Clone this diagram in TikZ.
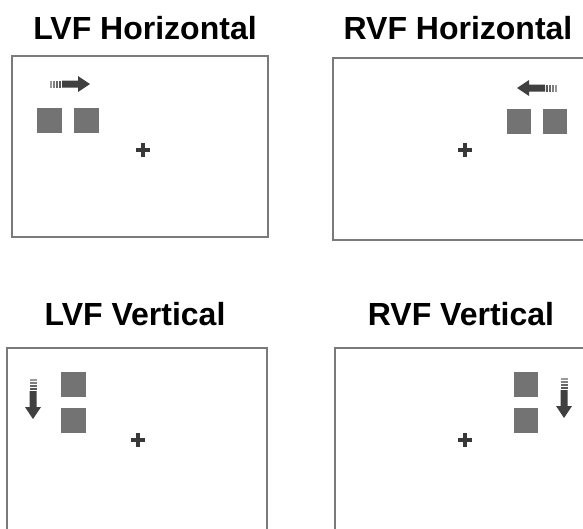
\documentclass[tikz,border=0pt]{standalone}
\usepackage{fontspec}
\setmainfont{Liberation Sans}
\begin{document}
\begin{tikzpicture}[x=1pt,y=-1pt,
  panel/.style={draw=black!52, line width=1.8pt},
  title/.style={font=\bfseries\fontsize{32}{32}\selectfont, anchor=base, inner sep=0pt},
  stim/.style={fill=black!55, draw=none},
  fix/.style={draw=black!78, line width=3.5pt},
  stimarrow/.pic={
    \fill[black!40] (0,-3.5) rectangle (1.8,3.5);
    \fill[black!50] (3,-3.5) rectangle (4.8,3.5);
    \fill[black!60] (6,-3.5) rectangle (7.8,3.5);
    \fill[black!66] (9,-3.5) rectangle (10.8,3.5);
    \fill[black!75] (12,-3.5) -- (28,-3.5) -- (28,-8) -- (40,0) -- (28,8) -- (28,3.5) -- (12,3.5) -- cycle;
  }
]
\useasboundingbox (0,0) rectangle (583,528);
\fill[white] (0,0) rectangle (583,528);

% titles
\node[title] (t1) at (145,39) {LVF Horizontal};
\node[title] (t2) at (458,39) {RVF Horizontal};
\node[title] (t3) at (135,325) {LVF Vertical};
\node[title] (t4) at (461,325) {RVF Vertical};

% panels
\draw[panel] (12,56) rectangle (268,237);
\draw[panel] (333,58) rectangle (600,240);
\draw[panel] (7,348) rectangle (267,560);
\draw[panel] (335,348) rectangle (600,560);

% squares
\fill[stim] (37,108) rectangle +(25,25);
\fill[stim] (74,108) rectangle +(25,25);
\fill[stim] (507,109) rectangle +(24,25);
\fill[stim] (543,109) rectangle +(24,25);
\fill[stim] (61,372) rectangle +(25,25);
\fill[stim] (61,408) rectangle +(25,25);
\fill[stim] (514,372) rectangle +(24,25);
\fill[stim] (514,408) rectangle +(24,25);

% fixation crosses
\foreach \cx/\cy in {143/150, 465/150, 138/440, 465/440}{
  \draw[fix] (\cx-7,\cy) -- (\cx+7,\cy);
  \draw[fix] (\cx,\cy-7) -- (\cx,\cy+7);
}

% motion arrows
\pic at (50,84) {stimarrow};
\pic[rotate=180] at (557,88) {stimarrow};
\pic[rotate=-90] at (33,379) {stimarrow};
\pic[rotate=-90] at (564,378) {stimarrow};
\end{tikzpicture}
\end{document}
